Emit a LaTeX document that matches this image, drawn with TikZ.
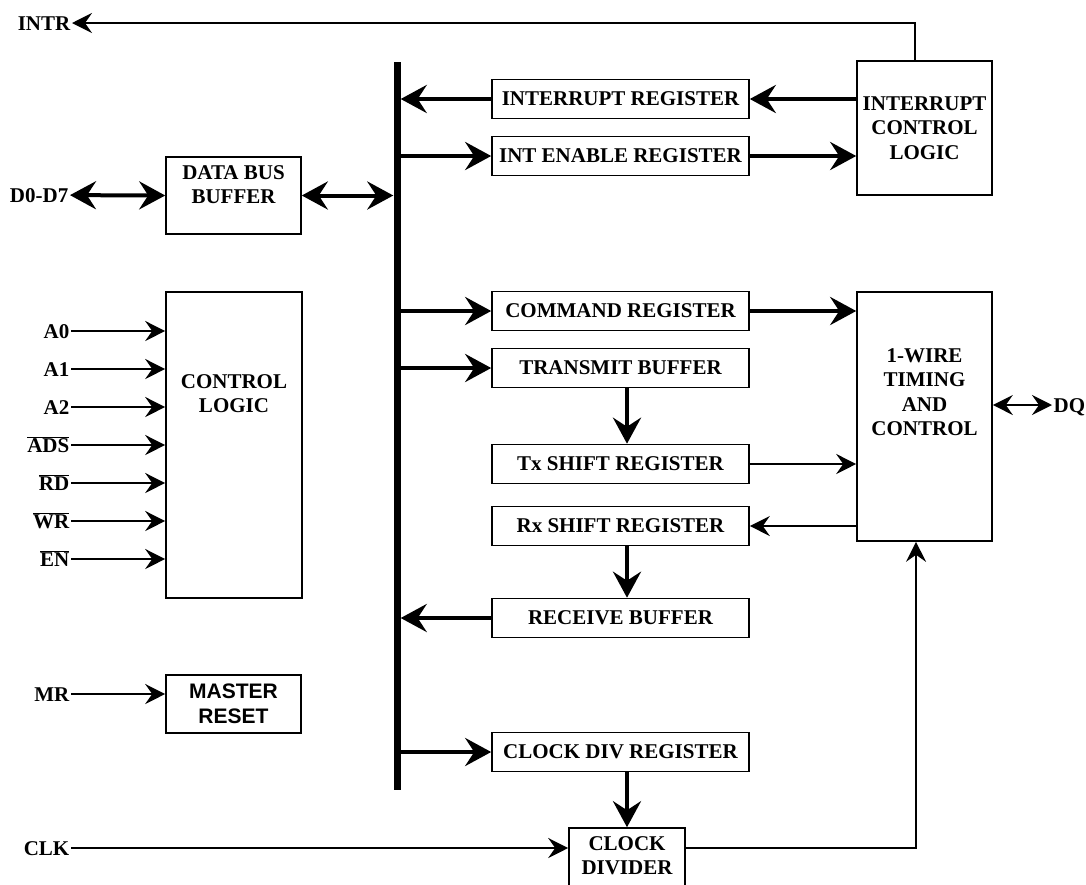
\documentclass[tikz,border=0pt]{standalone}
\usepackage{fontspec}
\setmainfont{Liberation Serif}
\newfontfamily\arialfont{Liberation Sans}
\usetikzlibrary{arrows.meta}
\newcommand{\ovl}[1]{$\overline{\hbox{#1}}$}

\begin{document}
\begin{tikzpicture}
[x=1pt,y=-1pt,
  font=\fontsize{21}{24.5}\selectfont\bfseries,
  boxDecorate/.style={draw,line width=1.6pt,inner sep=0pt,align=center},
  regDecorate/.style={boxDecorate,minimum width=257pt,minimum height=39pt},
  textDecorate/.style={inner sep=0pt,align=center},
  pinDecorate/.style={inner sep=1.5pt,anchor=east,text height=14pt,text depth=0pt},
  busDecorate/.style={fill=black,inner sep=0pt,minimum width=7pt,minimum height=728pt},
  bigTip/.tip={Stealth[length=26pt,width=28pt,inset=9pt]},
  smallTip/.tip={Stealth[length=20pt,width=20pt,inset=7pt]},
  thickArrow/.style={line width=4pt,-bigTip},
  thickDouble/.style={line width=4pt,bigTip-bigTip},
  thinArrow/.style={line width=2pt,-smallTip},
  thinDouble/.style={line width=2pt,smallTip-smallTip}]
\path[use as bounding box,fill=white] (0,0) rectangle (1086,884);
%% bus and blocks
\node (bus) at (397,426) [busDecorate] {};
\foreach \nodename/\y/\regtext in {
  intreg/99/INTERRUPT REGISTER,
  ienreg/156/INT ENABLE REGISTER,
  cmdreg/311/COMMAND REGISTER,
  txbuf/368/TRANSMIT BUFFER,
  txsr/464/Tx SHIFT REGISTER,
  rxsr/526/Rx SHIFT REGISTER,
  rxbuf/618/RECEIVE BUFFER,
  cdreg/752/CLOCK DIV REGISTER}
{
  \node (\nodename) at (620.5,\y) [regDecorate] {\regtext};
}
\node (dbb) at (233.5,195.5) [boxDecorate,minimum width=135pt,minimum height=77pt] {};
\node (dbbtext) at ([yshift=-9pt]dbb.north) [textDecorate,anchor=north] {DATA BUS\\BUFFER};
\node (ctrl) at (234,445) [boxDecorate,minimum width=136pt,minimum height=306pt] {};
\node (ctrltext) at ([yshift=-83pt]ctrl.north) [textDecorate,anchor=north] {CONTROL\\LOGIC};
\node (mrst) at (233.5,704) [boxDecorate,minimum width=135pt,minimum height=58pt,
  font=\fontsize{21}{24.5}\selectfont\arialfont\bfseries] {MASTER\\RESET};
\node (icl) at (924.5,128) [boxDecorate,minimum width=135pt,minimum height=134pt] {INTERRUPT\\CONTROL\\LOGIC};
\node (owt) at (924.5,416.5) [boxDecorate,minimum width=135pt,minimum height=249pt] {};
\node (owttext) at ([yshift=-57pt]owt.north) [textDecorate,anchor=north] {1-WIRE\\TIMING\\AND\\CONTROL};
\node (cdiv) at (627,866) [boxDecorate,minimum width=116pt,minimum height=76pt] {};
\node (cdivtext) at ([yshift=-9pt]cdiv.north) [textDecorate,anchor=north] {CLOCK\\DIVIDER};
%% pins
\node (intr) at (72,23) [pinDecorate] {INTR};
\node (dbus) at (70,195) [pinDecorate] {D0-D7};
\node (mr) at (71,694) [pinDecorate] {MR};
\node (clk) at (71,848) [pinDecorate] {CLK};
\node (dq) at (1052,405) [pinDecorate,anchor=west] {DQ};
\foreach \pinname/\pintext/\y in {
  a0/A0/331, a1/A1/369, a2/A2/407, ads/\ovl{ADS}/445,
  rd/\ovl{RD}/483, wr/\ovl{WR}/521, en/\ovl{EN}/559}
{
  \node (\pinname) at (71,\y) [pinDecorate] {\pintext};
  \draw[thinArrow] (\pinname) -- (\pinname -| ctrl.west);
}
\coordinate (intrtap) at ([xshift=-9.5pt]icl.north);
\coordinate (clktap) at ([xshift=-8.5pt]owt.south);
%% connections
\draw[thickDouble] (dbus) -- (dbb.west);
\draw[thickDouble] (dbb.east) -- (dbb.east -| bus.west);
\draw[thickArrow] (intreg.west) -- (intreg.west -| bus.east);
\draw[thickArrow] (intreg.east -| icl.west) -- (intreg.east);
\draw[thickArrow] (ienreg.west -| bus.east) -- (ienreg.west);
\draw[thickArrow] (ienreg.east) -- (ienreg.east -| icl.west);
\draw[thickArrow] (cmdreg.west -| bus.east) -- (cmdreg.west);
\draw[thickArrow] (cmdreg.east) -- (cmdreg.east -| owt.west);
\draw[thickArrow] (txbuf.west -| bus.east) -- (txbuf.west);
\draw[thickArrow] (txbuf.south -| cdiv.north) -- (txsr.north -| cdiv.north);
\draw[thinArrow] (txsr.east) -- (txsr.east -| owt.west);
\draw[thinArrow] (rxsr.east -| owt.west) -- (rxsr.east);
\draw[thickArrow] (rxsr.south -| cdiv.north) -- (rxbuf.north -| cdiv.north);
\draw[thickArrow] (rxbuf.west) -- (rxbuf.west -| bus.east);
\draw[thickArrow] (cdreg.west -| bus.east) -- (cdreg.west);
\draw[thickArrow] (cdreg.south -| cdiv.north) -- (cdiv.north);
\draw[thinArrow] (mr) -- (mrst.west |- mr);
\draw[thinArrow] (clk) -- (clk -| cdiv.west);
\draw[thinArrow] (cdiv.east |- clk) -| (clktap);
\draw[thinArrow] (intrtap) |- (intr);
\draw[thinDouble] (owt.east |- dq) -- (dq);
\end{tikzpicture}
\end{document}
